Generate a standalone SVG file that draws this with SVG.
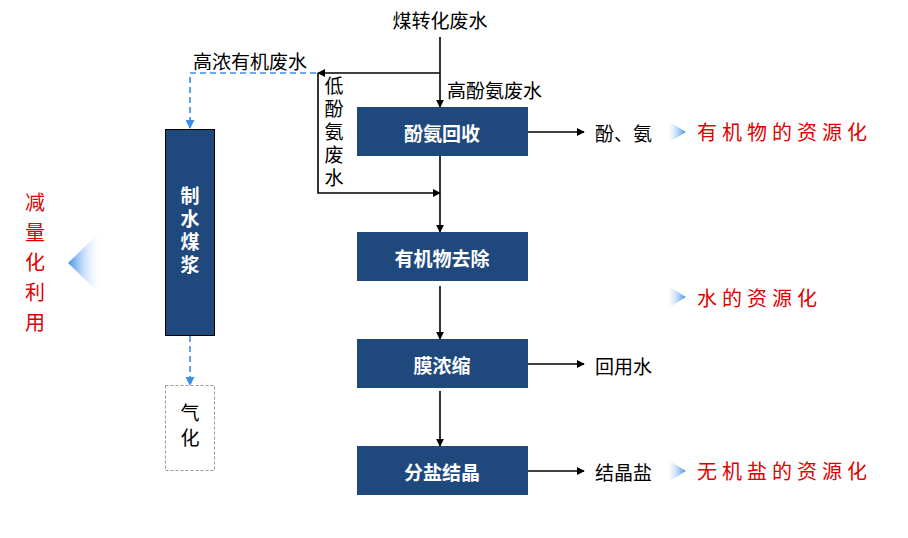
<svg xmlns="http://www.w3.org/2000/svg" width="908" height="538" viewBox="0 0 908 538">
<defs>
<style>
.box{fill:#1F497D}
.bt{font-family:"Noto Sans CJK SC","Noto Sans",sans-serif;font-size:19px;font-weight:bold;fill:#fff;text-anchor:middle;dominant-baseline:central}
.lb{font-family:"Noto Sans CJK SC","Noto Sans",sans-serif;font-size:19px;fill:#000;dominant-baseline:central}
.rd{font-family:"Noto Sans CJK SC","Noto Sans",sans-serif;font-size:20px;fill:#E00000;dominant-baseline:central;letter-spacing:5px}
.vt{writing-mode:vertical-rl;text-anchor:middle}
.ln{fill:none;stroke:#000;stroke-width:1.6}
.ds{fill:none;stroke:#3C8DEA;stroke-width:1.6;stroke-dasharray:6,4}
</style>
<marker id="ah" viewBox="0 0 10 10" refX="9" refY="5" markerWidth="8" markerHeight="8" markerUnits="userSpaceOnUse" orient="auto"><path d="M0,0 L10,5 L0,10 Z" fill="#000"/></marker>
<marker id="ahb" viewBox="0 0 10 10" refX="9" refY="5" markerWidth="9" markerHeight="9" markerUnits="userSpaceOnUse" orient="auto"><path d="M0,0 L10,5 L0,10 Z" fill="#3C8DEA"/></marker>
<linearGradient id="gr" x1="0" y1="0" x2="1" y2="0"><stop offset="0" stop-color="#fff" stop-opacity="0.3"/><stop offset="1" stop-color="#3C8DEA"/></linearGradient>
<linearGradient id="gl" x1="0" y1="0" x2="1" y2="0"><stop offset="0" stop-color="#3C8DEA"/><stop offset="1" stop-color="#fff" stop-opacity="0.2"/></linearGradient>
</defs>
<rect width="908" height="538" fill="#fff"/>
<g id="connectors">
<path class="ln" d="M440,37 V107" marker-end="url(#ah)"/>
<path class="ln" d="M440,73 H318" marker-end="url(#ah)"/>
<path class="ln" d="M318,73 V193 H440" marker-end="url(#ah)"/>
<path class="ln" d="M440,156 V232" marker-end="url(#ah)"/>
<path class="ln" d="M440,286 V339" marker-end="url(#ah)"/>
<path class="ln" d="M440,391 V446" marker-end="url(#ah)"/>
<path class="ln" d="M528,132 H584" marker-end="url(#ah)"/>
<path class="ln" d="M528,364 H584" marker-end="url(#ah)"/>
<path class="ln" d="M528,471 H584" marker-end="url(#ah)"/>
<path class="ds" d="M316,73 H190 V128" marker-end="url(#ahb)"/>
<path class="ds" d="M190,336 V385" marker-end="url(#ahb)"/>
</g>
<g id="labels">
<text class="lb" x="440" y="19" text-anchor="middle">煤转化废水</text>
<text class="lb" x="193" y="60">高浓有机废水</text>
<text class="lb" x="447" y="89">高酚氨废水</text>
<text class="lb vt" x="334" y="134" style="letter-spacing:4px">低酚氨废水</text>
<text class="lb" x="595" y="132">酚、氨</text>
<text class="lb" x="595" y="365">回用水</text>
<text class="lb" x="595" y="471">结晶盐</text>
</g>
<g id="n1"><rect class="box" x="357" y="107" width="171" height="49"/><text class="bt" x="442" y="132">酚氨回收</text></g>
<g id="n2"><rect class="box" x="357" y="232" width="171" height="49"/><text class="bt" x="442" y="257">有机物去除</text></g>
<g id="n3"><rect class="box" x="357" y="339" width="171" height="49"/><text class="bt" x="442" y="364">膜浓缩</text></g>
<g id="n4"><rect class="box" x="357" y="446" width="171" height="49"/><text class="bt" x="442" y="471">分盐结晶</text></g>
<g id="n5"><rect class="box" x="165.5" y="129.5" width="49" height="206" stroke="#000" stroke-width="1"/>
<text class="bt vt" x="190" y="232" style="letter-spacing:4px">制水煤浆</text></g>
<g id="n6"><rect x="165.5" y="385.5" width="49" height="85" fill="#fff" stroke="#999" stroke-width="1" stroke-dasharray="3,2"/>
<text class="lb vt" x="190" y="428" style="letter-spacing:6px">气化</text></g>
<g id="side">
<polygon points="68,263 99,233 99,293" fill="url(#gl)"/>
<text class="rd vt" x="35" y="267" style="letter-spacing:10px">减量化利用</text>
<polygon points="668,121 686,132 668,143" fill="url(#gr)"/>
<polygon points="668,286 686,297 668,308" fill="url(#gr)"/>
<polygon points="668,460 686,471 668,482" fill="url(#gr)"/>
<text class="rd" x="697" y="131">有机物的资源化</text>
<text class="rd" x="697" y="297">水的资源化</text>
<text class="rd" x="697" y="470">无机盐的资源化</text>
</g>
</svg>
